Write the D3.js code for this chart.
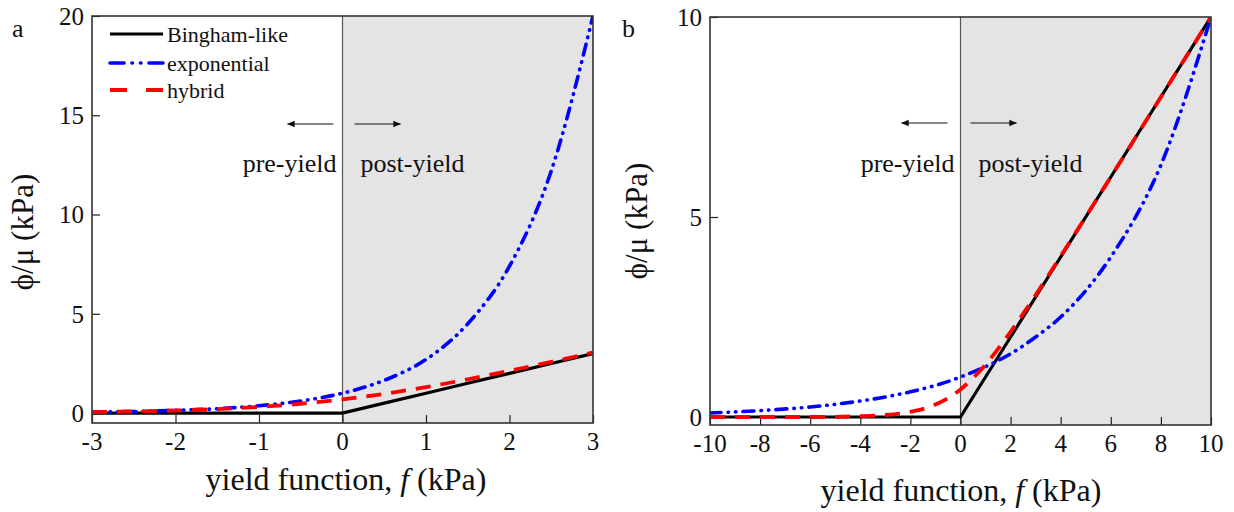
<!DOCTYPE html>
<html>
<head>
<meta charset="utf-8">
<script src="https://cdn.jsdelivr.net/npm/d3@7"></script>
<style>
  body { margin: 0; background: #fff; }
  svg text { font-family: "Liberation Serif", "Times New Roman", serif; fill: #111; }
</style>
</head>
<body>
<div id="chart"></div>
<script>
/**
 * DATA
 * */
const fA = [-3, -2.5, -2, -1.5, -1, -0.5, 0, 0.5, 1, 1.5, 2, 2.5, 3];
const binghamA = [0, 0, 0, 0, 0, 0, 0, 0.5, 1, 1.5, 2, 2.5, 3];
const exponentialA = [0.05, 0.08, 0.14, 0.22, 0.37, 0.61, 1.0, 1.65, 2.7, 4.5, 7.4, 12.2, 20];
const hybridA = [0.05, 0.08, 0.13, 0.2, 0.31, 0.47, 0.69, 0.97, 1.31, 1.7, 2.13, 2.58, 3.05];

const fB = [-10, -8, -6, -4, -3, -2, -1, 0, 1, 2, 3, 4, 6, 8, 10];
const binghamB = [0, 0, 0, 0, 0, 0, 0, 0, 1, 2, 3, 4, 6, 8, 10];
const exponentialB = [0.1, 0.16, 0.25, 0.4, 0.5, 0.63, 0.79, 1.0, 1.26, 1.58, 2.0, 2.5, 4.0, 6.3, 10];
const hybridB = [0, 0, 0, 0.02, 0.05, 0.13, 0.31, 0.69, 1.31, 2.13, 3.05, 4.02, 6.0, 8.0, 10];

const seriesNames = ["Bingham-like", "exponential", "hybrid"];
const xTicksA = [-3, -2, -1, 0, 1, 2, 3];
const yTicksA = [0, 5, 10, 15, 20];
const xTicksB = [-10, -8, -6, -4, -2, 0, 2, 4, 6, 8, 10];
const yTicksB = [0, 5, 10];

/**
 * STYLES
 * */
const styles = {
  "Bingham-like": { color: "#000", width: 3.2, dash: null, cap: "butt" },
  "exponential": { color: "#0000ff", width: 3.6, dash: "11,7,0.5,7,0.5,7", cap: "round" },
  "hybrid": { color: "#ff0000", width: 3.8, dash: "15,10", cap: "butt" }
};

const width = 1234, height = 512;

const svg = d3.select("#chart")
  .append("svg")
  .attr("width", width)
  .attr("height", height);

const defs = svg.append("defs");
defs.append("marker")
  .attr("id", "arrow")
  .attr("viewBox", "0 0 10 10")
  .attr("refX", 9).attr("refY", 5)
  .attr("markerWidth", 8).attr("markerHeight", 8)
  .attr("markerUnits", "userSpaceOnUse")
  .attr("orient", "auto")
  .append("path")
  .attr("d", "M0,1 L10,5 L0,9 Z")
  .attr("fill", "#111");

function drawPanel(cfg) {
  const x = d3.scaleLinear().domain(cfg.xDomain).range([cfg.left, cfg.right]);
  const y = d3.scaleLinear().domain(cfg.yDomain).range([cfg.bottom, cfg.top]);
  const g = svg.append("g");
  const clipId = "clip-" + cfg.label;

  defs.append("clipPath").attr("id", clipId)
    .append("rect")
    .attr("x", cfg.left).attr("y", cfg.top)
    .attr("width", cfg.right - cfg.left).attr("height", cfg.bottom - cfg.top);

  // post-yield shaded area
  g.append("rect")
    .attr("x", x(0)).attr("y", cfg.top)
    .attr("width", x(cfg.xDomain[1]) - x(0))
    .attr("height", cfg.bottom - cfg.top)
    .attr("fill", "#e4e4e4");

  g.append("line")
    .attr("x1", x(0)).attr("x2", x(0))
    .attr("y1", cfg.top).attr("y2", cfg.bottom)
    .attr("stroke", "#555").attr("stroke-width", 1.2);

  // ticks (inside)
  const xAxis = d3.axisTop(x).tickValues(cfg.xTicks).tickSize(8).tickFormat("");
  g.append("g").attr("transform", `translate(0,${cfg.bottom})`).call(xAxis)
    .call(a => a.select(".domain").remove())
    .selectAll("line").attr("stroke", "#222").attr("stroke-width", 1.2);
  const yAxis = d3.axisRight(y).tickValues(cfg.yTicks).tickSize(8).tickFormat("");
  g.append("g").attr("transform", `translate(${cfg.left},0)`).call(yAxis)
    .call(a => a.select(".domain").remove())
    .selectAll("line").attr("stroke", "#222").attr("stroke-width", 1.2);

  // tick labels
  g.selectAll(".xlab")
    .data(cfg.xTicks)
    .join("text")
    .attr("x", d => x(d))
    .attr("y", cfg.bottom + 27)
    .attr("text-anchor", "middle")
    .attr("font-size", 25)
    .text(d => d);
  g.selectAll(".ylab")
    .data(cfg.yTicks)
    .join("text")
    .attr("x", cfg.left - 8)
    .attr("y", d => y(d))
    .attr("dy", "0.35em")
    .attr("text-anchor", "end")
    .attr("font-size", 25)
    .text(d => d);

  // curves
  const line = d3.line()
    .x(d => x(d[0]))
    .y(d => y(d[1]));
  const smooth = d3.line()
    .x(d => x(d[0]))
    .y(d => y(d[1]))
    .curve(d3.curveMonotoneX);

  const lines = g.append("g").attr("clip-path", `url(#${clipId})`);
  cfg.series.forEach(s => {
    const st = styles[s.name];
    const pts = cfg.f.map((v, i) => [v, s.values[i]]);
    lines.append("path")
      .attr("d", s.name === "Bingham-like" ? line(pts) : smooth(pts))
      .attr("fill", "none")
      .attr("stroke", st.color)
      .attr("stroke-width", st.width)
      .attr("stroke-linecap", st.cap)
      .attr("stroke-dasharray", st.dash);
  });

  // frame
  g.append("rect")
    .attr("x", cfg.left).attr("y", cfg.top)
    .attr("width", cfg.right - cfg.left).attr("height", cfg.bottom - cfg.top)
    .attr("fill", "none").attr("stroke", "#333").attr("stroke-width", 1.6);

  // arrows and region labels
  const ay = cfg.arrowY;
  g.append("line")
    .attr("x1", x(0) - cfg.arrowGap).attr("x2", x(0) - cfg.arrowGap - 46)
    .attr("y1", ay).attr("y2", ay)
    .attr("stroke", "#111").attr("stroke-width", 1)
    .attr("marker-end", "url(#arrow)");
  g.append("line")
    .attr("x1", x(0) + cfg.arrowGap2).attr("x2", x(0) + cfg.arrowGap2 + 46)
    .attr("y1", ay).attr("y2", ay)
    .attr("stroke", "#111").attr("stroke-width", 1)
    .attr("marker-end", "url(#arrow)");
  g.append("text")
    .attr("x", x(0) - 6).attr("y", 172)
    .attr("text-anchor", "end")
    .attr("font-size", 26)
    .text("pre-yield");
  g.append("text")
    .attr("x", x(0) + 18).attr("y", 172)
    .attr("font-size", 26)
    .text("post-yield");

  // axis titles
  const xt = g.append("text")
    .attr("x", cfg.titleX)
    .attr("y", cfg.titleY)
    .attr("text-anchor", "middle")
    .attr("font-size", 32);
  xt.append("tspan").text("yield function, ");
  xt.append("tspan").attr("font-style", "italic").text("f");
  xt.append("tspan").text(" (kPa)");

  g.append("text")
    .attr("transform", `translate(${cfg.yTitleX},${cfg.yTitleY}) rotate(-90)`)
    .attr("text-anchor", "middle")
    .attr("dy", "0.35em")
    .attr("font-size", 31)
    .text("\u03d5/\u03bc (kPa)");

  g.append("text")
    .attr("x", cfg.labelX).attr("y", 37)
    .attr("font-size", 26)
    .text(cfg.label);

  return { x, y, g };
}

const panelA = drawPanel({
  label: "a", labelX: 12,
  left: 92, right: 593, top: 16, bottom: 423,
  xDomain: [-3, 3], yDomain: [-0.5, 20],
  xTicks: xTicksA, yTicks: yTicksA,
  f: fA,
  series: [
    { name: "Bingham-like", values: binghamA },
    { name: "exponential", values: exponentialA },
    { name: "hybrid", values: hybridA }
  ],
  arrowY: 124, arrowGap: 9, arrowGap2: 12,
  titleX: 346, titleY: 490, yTitleX: 22, yTitleY: 232
});

drawPanel({
  label: "b", labelX: 622,
  left: 710, right: 1211, top: 17, bottom: 425,
  xDomain: [-10, 10], yDomain: [-0.2, 10],
  xTicks: xTicksB, yTicks: yTicksB,
  f: fB,
  series: [
    { name: "Bingham-like", values: binghamB },
    { name: "exponential", values: exponentialB },
    { name: "hybrid", values: hybridB }
  ],
  arrowY: 123, arrowGap: 13, arrowGap2: 10,
  titleX: 961, titleY: 501, yTitleX: 636, yTitleY: 221
});

// legend (panel a)
const legend = panelA.g.append("g")
  .selectAll("g")
  .data(seriesNames)
  .join("g")
  .attr("transform", (d, i) => `translate(110,${[34, 63, 90][i]})`);
legend.append("line")
  .attr("x1", 0).attr("x2", 53)
  .attr("y1", 0).attr("y2", 0)
  .attr("stroke", d => styles[d].color)
  .attr("stroke-width", d => styles[d].width)
  .attr("stroke-linecap", d => styles[d].cap)
  .attr("stroke-dasharray", d => d === "hybrid" ? "17,19" : d === "exponential" ? "14,8,0.5,8,0.5,8" : null);
legend.append("text")
  .attr("x", 57)
  .attr("dy", "0.35em")
  .attr("font-size", 22)
  .text(d => d);
</script>
</body>
</html>
